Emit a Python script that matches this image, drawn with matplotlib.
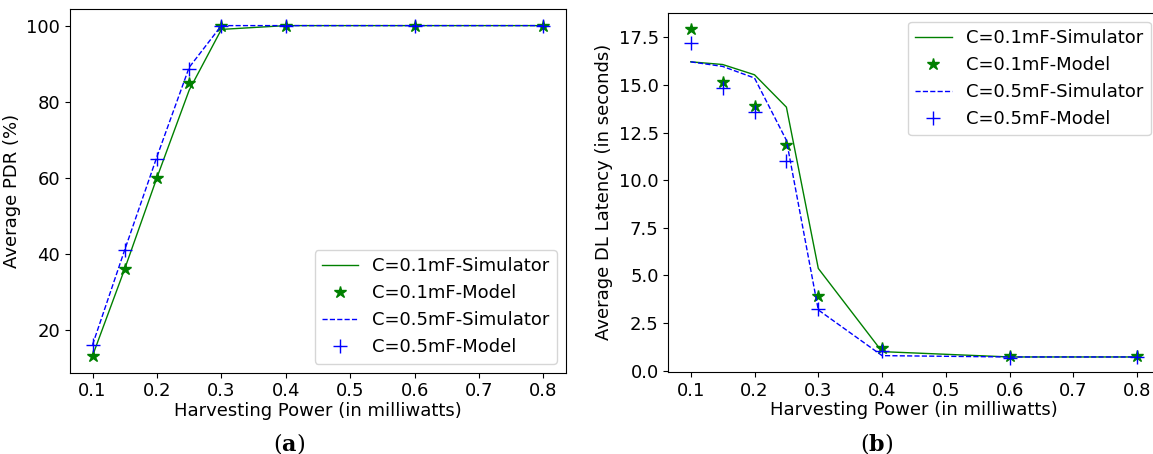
import matplotlib.pyplot as plt

# Harvesting power (mW)
power = [0.1, 0.15, 0.2, 0.25, 0.3, 0.4, 0.6, 0.8]

# (a) Average PDR (%)
pdr_sim_01 = [13.1, 36.0, 60.0, 83.0, 99.0, 100.0, 100.0, 100.0]
pdr_mod_01 = [13.0, 36.0, 60.0, 85.0, 100.0, 100.0, 100.0, 100.0]
pdr_sim_05 = [16.0, 41.0, 65.5, 89.0, 100.0, 100.0, 100.0, 100.0]
pdr_mod_05 = [16.0, 41.0, 65.0, 88.5, 99.8, 99.8, 99.8, 99.8]

# (b) Average DL latency (s)
lat_sim_01 = [16.22, 16.08, 15.54, 13.84, 5.37, 1.0, 0.72, 0.72]
lat_mod_01 = [17.94, 15.17, 13.9, 11.85, 3.94, 1.17, 0.77, 0.75]
lat_sim_05 = [16.22, 15.98, 15.37, 12.1, 3.19, 0.79, 0.72, 0.72]
lat_mod_05 = [17.19, 14.84, 13.6, 11.03, 3.22, 1.03, 0.65, 0.70]

labels = ['C=0.1mF-Simulator', 'C=0.1mF-Model', 'C=0.5mF-Simulator', 'C=0.5mF-Model']

plt.rcParams['font.size'] = 13
plt.rcParams['mathtext.fontset'] = 'dejavuserif'

fig = plt.figure(figsize=(11.53, 4.54), dpi=100)
ax1 = fig.add_axes([0.0607, 0.179, 0.4302, 0.801])
ax2 = fig.add_axes([0.5797, 0.1806, 0.426, 0.7914])


def draw(ax, sim1, mod1, sim5, mod5):
    ax.plot(power, sim1, color='green', lw=1, label=labels[0])
    ax.plot(power, mod1, '*', color='green', ms=9, ls='none', label=labels[1])
    ax.plot(power, sim5, '--', color='blue', lw=1, label=labels[2])
    ax.plot(power, mod5, '+', color='blue', ms=10, ls='none', label=labels[3])
    ax.set_xticks([0.1, 0.2, 0.3, 0.4, 0.5, 0.6, 0.7, 0.8])
    ax.set_xlabel('Harvesting Power (in milliwatts)', labelpad=1)


draw(ax1, pdr_sim_01, pdr_mod_01, pdr_sim_05, pdr_mod_05)
ax1.set_ylabel('Average PDR (%)')
ax1.set_yticks([20, 40, 60, 80, 100])
ax1.legend(loc='lower right')

draw(ax2, lat_sim_01, lat_mod_01, lat_sim_05, lat_mod_05)
ax2.set_ylabel('Average DL Latency (in seconds)')
ax2.set_yticks([0.0, 2.5, 5.0, 7.5, 10.0, 12.5, 15.0, 17.5])
ax2.set_ylim(-0.07, 18.8)
ax2.legend(loc='upper right')

# sub-figure captions
fig.text(0.2507, 0.024, r'($\mathbf{a}$)', ha='center', va='center', fontsize=16, family='DejaVu Serif')
fig.text(0.7606, 0.024, r'($\mathbf{b}$)', ha='center', va='center', fontsize=16, family='DejaVu Serif')

fig.savefig('out.png', dpi=100)
